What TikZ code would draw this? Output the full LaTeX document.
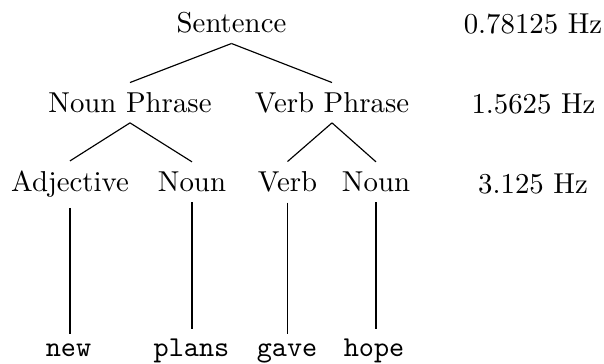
\documentclass[tikz,border=0pt]{standalone}
\begin{document}
\begin{tikzpicture}[x=0.3472pt,y=-0.3472pt,
  lbl/.style={anchor=base},
  phrase/.style={anchor=base,text depth=0pt},
  word/.style={anchor=base,font=\ttfamily},
  edge/.style={draw,line width=0.4pt}]
\useasboundingbox (0,0) rectangle (604,363);
% tree
\node[lbl] (S) at (231.5,32.7) {Sentence};
\node[phrase] (NP) at (130,112.7) {Noun Phrase};
\node[phrase] (VP) at (332,112.7) {Verb Phrase};
\node[lbl] (Adj) at (70,191.7) {Adjective};
\node[lbl] (N1) at (192,191.7) {Noun};
\node[lbl] (V) at (287.5,191.7) {Verb};
\node[lbl] (N2) at (376,191.7) {Noun};
\node[word] (w1) at (68.5,356.7) {new};
\node[word] (w2) at (191.5,356.7) {plans};
\node[word] (w3) at (287,356.7) {gave};
\node[word] (w4) at (374,356.7) {hope};
% frequencies
\node[lbl] (f1) at (533,34) {0.78125 Hz};
\node[lbl] (f2) at (533.5,113.3) {1.5625 Hz};
\node[lbl] (f3) at (533,193) {3.125 Hz};
% edges
\draw[edge] (S.south) -- (NP.north);
\draw[edge] (S.south) -- (VP.north);
\draw[edge] (NP.south) -- (Adj.north);
\draw[edge] (NP.south) -- (N1.north);
\draw[edge] (VP.south) -- (V.north);
\draw[edge] (VP.south) -- (N2.north);
\draw[edge] (Adj.south) -- (Adj.south |- w1.north);
\draw[edge] (N1.south) -- (N1.south |- w2.north);
\draw[edge] (V.south) -- (V.south |- w3.north);
\draw[edge] (N2.south) -- (N2.south |- w4.north);
\end{tikzpicture}
\end{document}
